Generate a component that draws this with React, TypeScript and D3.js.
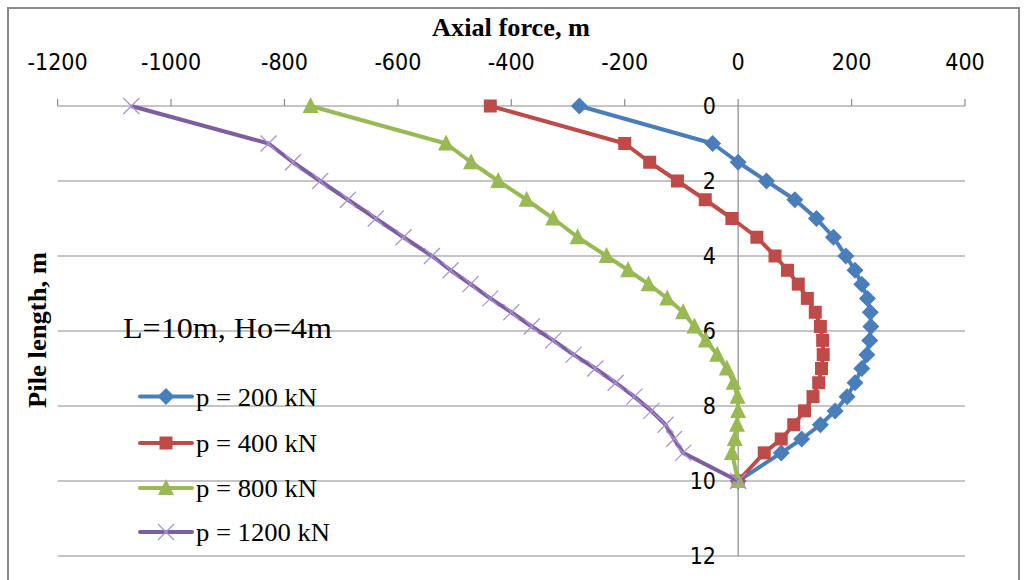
import React from "react";
import * as d3 from "d3";

const depths = [0, 1, 1.5, 2, 2.5, 3, 3.5, 4, 4.38, 4.75, 5.13, 5.5, 5.88, 6.25, 6.63, 7.0, 7.38, 7.75, 8.13, 8.5, 8.88, 9.25, 10];
const p200 = [-280, -45, 0, 50, 100, 138, 168, 190, 206, 218, 228, 233, 234, 232, 227, 218, 206, 192, 171, 145, 112, 76, 0];
const p400 = [-437, -200, -156, -107, -58, -11, 33, 65, 87, 106, 122, 136, 145, 149, 150, 147, 142, 132, 117, 98, 76, 46, 0];
const p800 = [-754, -515, -471, -423, -373, -326, -283, -232, -194, -158, -125, -97, -77, -57, -37, -20, -8, -1, 0, -2, -6, -11, 0];
const p1200 = [-1070, -828, -785, -737, -688, -639, -590, -540, -507, -472, -437, -400, -364, -326, -290, -252, -216, -183, -153, -128, -113, -97, 0];

const xTicks = [-1200, -1000, -800, -600, -400, -200, 0, 200, 400];
const yTicks = [0, 2, 4, 6, 8, 10, 12];

const seriesNames = ["p = 200 kN", "p = 400 kN", "p = 800 kN", "p = 1200 kN"];
const seriesValues = [p200, p400, p800, p1200];
const seriesColors = ["#4A7EBB", "#BE4B48", "#98B954", "#7D5FA0"];
const markerKinds = ["diamond", "square", "triangle", "cross"];

const x = d3.scaleLinear().domain([-1200, 400]).range([57.6, 965]);
const y = d3.scaleLinear().domain([0, 12]).range([106, 556]);

function Marker({ kind, cx, cy, color }: { kind: string; cx: number; cy: number; color: string }) {
  if (kind === "diamond") {
    return <path d={`M${cx},${cy - 8.5}L${cx + 8.5},${cy}L${cx},${cy + 8.5}L${cx - 8.5},${cy}Z`} fill={color} />;
  }
  if (kind === "square") {
    return <rect x={cx - 6.5} y={cy - 6.5} width={13} height={13} fill={color} />;
  }
  if (kind === "triangle") {
    return <path d={`M${cx},${cy - 9}L${cx + 8},${cy + 7}L${cx - 8},${cy + 7}Z`} fill={color} />;
  }
  return (
    <g stroke="#A993D2" strokeWidth={1.3}>
      <line x1={cx - 8} y1={cy - 8} x2={cx + 8} y2={cy + 8} />
      <line x1={cx - 8} y1={cy + 8} x2={cx + 8} y2={cy - 8} />
    </g>
  );
}

export default function App() {
  const line = d3
    .line<[number, number]>()
    .x((d) => x(d[0]))
    .y((d) => y(d[1]));
  const tickFont = "'Liberation Sans Narrow', 'Arial Narrow', 'DejaVu Sans Condensed', sans-serif";
  const serif = "'Liberation Serif', 'Times New Roman', serif";
  const legendY = [396.5, 443, 488, 532];

  return (
    <svg
      width={1026}
      height={580}
      style={{ position: "absolute", left: 0, top: 0, background: "#fff" }}
    >
      <rect x={0} y={0} width={1026} height={580} fill="#fff" />
      <rect x={8} y={8} width={1011} height={580} fill="none" stroke="#8a8a8a" strokeWidth={2} />

      {yTicks.slice(1).map((t) => (
        <line key={t} x1={x(-1200)} x2={x(400)} y1={y(t)} y2={y(t)} stroke="#8c8c8c" strokeWidth={1.2} />
      ))}
      <line x1={x(-1200)} x2={x(400)} y1={y(0)} y2={y(0)} stroke="#8c8c8c" strokeWidth={1.2} />
      {xTicks.map((t) => (
        <line key={t} x1={x(t)} x2={x(t)} y1={y(0)} y2={y(0) - 7} stroke="#8c8c8c" strokeWidth={1.2} />
      ))}
      <line x1={x(0)} x2={x(0)} y1={y(0)} y2={y(12)} stroke="#8c8c8c" strokeWidth={1.2} />

      {xTicks.map((t) => (
        <text key={t} x={x(t)} y={70} textAnchor="middle" fontFamily={tickFont} fontSize={23} fill="#000">
          {t}
        </text>
      ))}
      {yTicks.map((t) => (
        <text key={t} x={716} y={y(t) + 8} textAnchor="end" fontFamily={tickFont} fontSize={23} fill="#000">
          {t}
        </text>
      ))}

      <text
        x={511}
        y={36}
        textAnchor="middle"
        fontFamily={serif}
        fontWeight="bold"
        fontSize={25}
        fill="#000"
        textLength={158}
        lengthAdjust="spacingAndGlyphs"
      >
        Axial force, m
      </text>
      <text
        transform={`translate(46,330) rotate(-90)`}
        textAnchor="middle"
        fontFamily={serif}
        fontWeight="bold"
        fontSize={26}
        fill="#000"
        textLength={156}
        lengthAdjust="spacingAndGlyphs"
      >
        Pile length, m
      </text>

      {seriesValues.map((vals, i) => {
        const pts: [number, number][] = vals.map((v, j) => [v, depths[j]]);
        return (
          <g key={i}>
            <path d={line(pts) || ""} fill="none" stroke={seriesColors[i]} strokeWidth={4} strokeLinejoin="round" />
            {pts.map((p, j) => (
              <Marker key={j} kind={markerKinds[i]} cx={x(p[0])} cy={y(p[1])} color={seriesColors[i]} />
            ))}
          </g>
        );
      })}

      <text x={123} y={338} fontFamily={serif} fontSize={30} fill="#000" textLength={209} lengthAdjust="spacingAndGlyphs">
        L=10m, Ho=4m
      </text>

      {seriesNames.map((name, i) => (
        <g key={name}>
          <line x1={140} x2={192} y1={legendY[i]} y2={legendY[i]} stroke={seriesColors[i]} strokeWidth={4} strokeLinecap="round" />
          <Marker kind={markerKinds[i]} cx={166} cy={legendY[i]} color={seriesColors[i]} />
          <text
            x={196}
            y={legendY[i] + 9}
            fontFamily={serif}
            fontSize={25}
            fill="#000"
            textLength={name.length > 10 ? 134 : 121}
            lengthAdjust="spacingAndGlyphs"
          >
            {name}
          </text>
        </g>
      ))}
    </svg>
  );
}
